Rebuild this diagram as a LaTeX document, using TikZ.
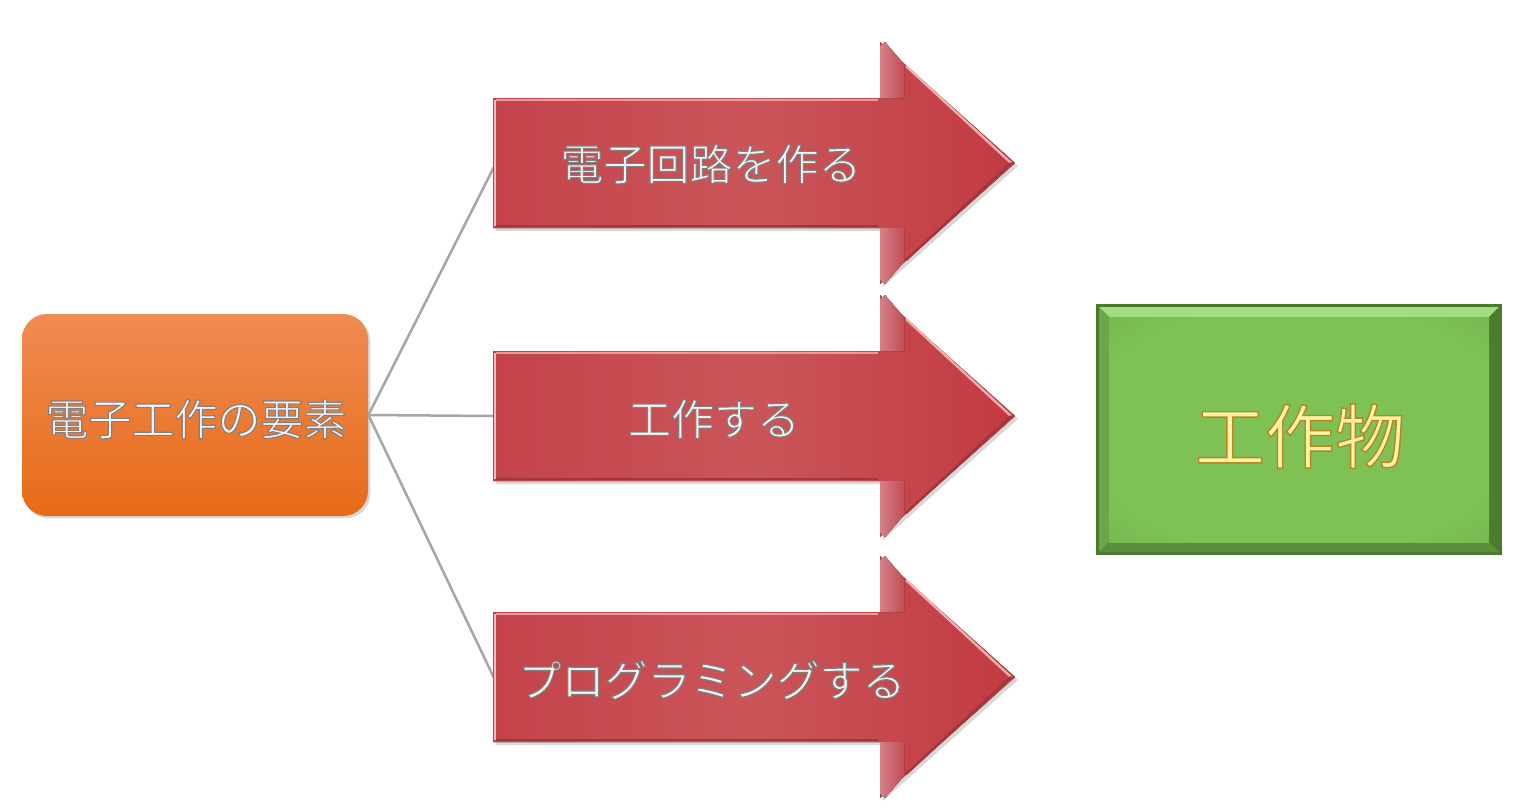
\documentclass[tikz,border=0pt]{standalone}
\usepackage{fontspec}
\newfontfamily\jp{Noto Sans CJK JP}
\usetikzlibrary{shadows}
\definecolor{connGray}{HTML}{A6A6A6}
\definecolor{arrL}{HTML}{C4434B}
\definecolor{arrM}{HTML}{CA5559}
\definecolor{arrR}{HTML}{C23A42}
\definecolor{arrHi}{HTML}{EC9A9C}
\definecolor{arrDk}{HTML}{A3353B}
\definecolor{flapL}{HTML}{D58088}
\definecolor{flapR}{HTML}{C24C54}
\definecolor{orTop}{HTML}{F08B52}
\definecolor{orBot}{HTML}{E76B17}
\definecolor{grOut}{HTML}{4A7A2C}
\definecolor{grTop}{HTML}{A4DC82}
\definecolor{grLeft}{HTML}{6DA64A}
\definecolor{grRight}{HTML}{4C7C2F}
\definecolor{grBot}{HTML}{5A8E3A}
\definecolor{grIn}{HTML}{7EC256}
\definecolor{grEdge}{HTML}{5F983F}
\definecolor{txtFill}{HTML}{F4F4F4}
\definecolor{ylFill}{HTML}{FFF2A8}
\pgfdeclareradialshading{grshade}{\pgfpoint{0bp}{0bp}}{%
  color(0bp)=(grIn); color(28bp)=(grIn); color(62bp)=(grEdge); color(75bp)=(grEdge)}
% #1 text, #2 fill colour, #3 stroke colour as "r g b" (0..1), #4 stroke width
\newcommand{\outlinetxt}[4]{%
{\color{#2}\special{pdf:literal direct 2 Tr #4 w #3 RG}#1\special{pdf:literal direct 0 Tr}}}
\newcommand{\redarrow}[1]{%
\fill[arrowfill, drop shadow={opacity=0.3,shadow xshift=1.5pt,shadow yshift=-1.5pt}]
 (493,{#1-65}) -- (880,{#1-65}) -- (880,{#1-121}) -- (1015,#1) -- (880,{#1+121})
 -- (880,{#1+65}) -- (493,{#1+65}) -- cycle;
\draw[line width=1.4pt, arrHi] (496,{#1-63}) -- (878,{#1-63});
\draw[line width=1.2pt, arrHi!80] (906,{#1-97}) -- (1011,#1);
\draw[line width=1.2pt, arrDk] (496,{#1+63}) -- (878,{#1+63});
\draw[line width=1.2pt, arrDk] (906,{#1+97}) -- (1011,#1);
\draw[line width=1.2pt, arrHi!70] (495,{#1-63}) -- (495,{#1+63});
\fill[left color=flapL, right color=flapR]
 (880,{#1-65}) -- (880,{#1-117}) -- (885,{#1-121}) -- (904,{#1-99}) -- (904,{#1-65}) -- cycle;
\fill[left color=flapL, right color=flapR]
 (880,{#1+65}) -- (880,{#1+117}) -- (885,{#1+121}) -- (904,{#1+99}) -- (904,{#1+65}) -- cycle;
}
\tikzset{
  lbl/.style={font=\jp\fontsize{21.5}{24}\selectfont, inner sep=0pt},
  biglbl/.style={font=\jp\fontsize{35}{40}\selectfont, inner sep=0pt},
  conn/.style={draw=connGray, line width=1.25pt},
  arrowfill/.style={left color=arrL, right color=arrR, middle color=arrM},
  srcbox/.style={rounded corners=12.5pt, top color=orTop, bottom color=orBot,
    minimum width=173pt, minimum height=101pt, inner sep=0pt,
    drop shadow={opacity=0.3,shadow xshift=1.2pt,shadow yshift=-1.2pt}}
}
\begin{document}
\begin{tikzpicture}[x=0.5pt,y=-0.5pt]
\useasboundingbox[fill=white] (0,0) rectangle (1526,811);

% source box
\node[srcbox] (src) at (195,415) {};
\node[lbl] (srctxt) at (196,419) {\outlinetxt{電子工作の要素}{txtFill}{0.5 0.5 0.5}{0.55}};

% connector ends
\coordinate (in1) at (495,165);
\coordinate (in2) at (495,416);
\coordinate (in3) at (495,680);
\draw[conn] (src.east) -- (in1);
\draw[conn] (src.east) -- (in2);
\draw[conn] (src.east) -- (in3);

% arrows
\redarrow{163}
\redarrow{416}
\redarrow{677}
\node[lbl] (t1) at (711,164) {\outlinetxt{電子回路を作る}{txtFill}{0.5 0.5 0.5}{0.55}};
\node[lbl] (t2) at (714,419) {\outlinetxt{工作する}{txtFill}{0.5 0.5 0.5}{0.55}};
\node[lbl] (t3) at (712,680) {\outlinetxt{プログラミングする}{txtFill}{0.5 0.5 0.5}{0.55}};

% result box
\fill[grOut] (1096,304) rectangle (1502,555);
\fill[grTop] (1099,307) -- (1499,307) -- (1489,317) -- (1109,317) -- cycle;
\fill[grLeft] (1099,307) -- (1109,317) -- (1109,542) -- (1099,552) -- cycle;
\fill[grRight] (1499,307) -- (1499,552) -- (1489,542) -- (1489,317) -- cycle;
\fill[grBot] (1099,552) -- (1499,552) -- (1489,542) -- (1109,542) -- cycle;
\fill[shading=grshade] (1109,317) rectangle (1489,542);
\node[biglbl] (prod) at (1300,436) {\outlinetxt{工作物}{ylFill}{0.72 0.52 0.12}{0.7}};
\end{tikzpicture}
\end{document}
